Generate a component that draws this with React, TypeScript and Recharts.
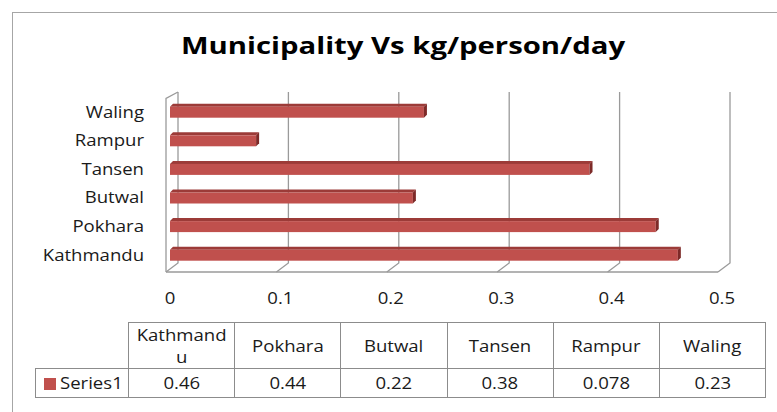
import React from "react";
import { BarChart, Bar, XAxis, YAxis, CartesianGrid } from "recharts";

const categories = ["Kathmandu", "Pokhara", "Butwal", "Tansen", "Rampur", "Waling"];
const values = [0.46, 0.44, 0.22, 0.38, 0.078, 0.23];
const xTicks = [0, 0.1, 0.2, 0.3, 0.4, 0.5];
const seriesName = "Series1";
const title = "Municipality Vs kg/person/day";

const data = categories.map((name, i) => ({ name, value: values[i] }));

const FONT = "'Open Sans', sans-serif";
const TXT = "#1a1a1a";
const GRID = "#9a9a9a";
const RED = "#C0504D";
const SX = 1.16; // the source picture is a bit stretched sideways

// bar with a thin top face and a dark end cap, like the excel 3d bars
const Bar3D = (p: any) => {
  const { x, y, width, height } = p;
  const d = 3;
  const x1 = x + width;
  return (
    <g>
      <polygon points={`${x},${y} ${x + d},${y - d} ${x1 + d},${y - d} ${x1},${y}`} fill="#9c3b38" />
      <rect x={x} y={y} width={width} height={height} fill={RED} />
      <polygon points={`${x1},${y} ${x1 + d},${y - d} ${x1 + d},${y + height - d} ${x1},${y + height}`} fill="#7d2a28" />
    </g>
  );
};

const wallLine = (p: any) => {
  const bx = p.x1 + 8;
  const fx = p.x1 - 4;
  const top = p.y1 - 5.7;
  const bb = p.y2 - 6.3;
  const fy = p.y2 + 2.7;
  return (
    <g key={`v-${p.index}`}>
      <path d={`M${bx},${top}V${bb}L${fx},${fy}`} stroke={GRID} strokeWidth={1.3} fill="none" />
      {p.index === 0 && (
        <path d={`M${bx},${top}L${fx},${top + 6.3}V${fy}`} stroke={GRID} strokeWidth={1.3} fill="none" />
      )}
    </g>
  );
};

const floorLine = (p: any) => (
  <path
    key={`h-${p.index}`}
    d={`M${p.x1 - 4},${p.y1 + 2.7}H${p.x2 - 4}`}
    stroke={GRID}
    strokeWidth={1.3}
    fill="none"
  />
);

const XTick = (p: any) => (
  <g transform={`translate(${p.x},${p.y + 27}) scale(${SX},1)`}>
    <text dy="0.35em" textAnchor="middle" fontFamily={FONT} fontSize={16} fill={TXT}>
      {p.payload.value}
    </text>
  </g>
);

const YTick = (p: any) => (
  <g transform={`translate(${p.x - 24},${p.y}) scale(${SX},1)`}>
    <text dy="0.35em" textAnchor="end" fontFamily={FONT} fontSize={16} fill={TXT}>
      {p.payload.value}
    </text>
  </g>
);

const cell: React.CSSProperties = {
  border: "1px solid #8c8c8c",
  textAlign: "center",
  padding: "0 13px",
  wordBreak: "break-all",
  lineHeight: "22px",
};

const wide: React.CSSProperties = { display: "inline-block", transform: `scaleX(${SX})` };

export default function App() {
  return (
    <div style={{ position: "absolute", left: 0, top: 0, width: 777, height: 412, background: "#fff", overflow: "hidden" }}>
      <div
        style={{
          position: "absolute", left: 12, top: 12, width: 800, height: 420,
          border: "1px solid #a6a6a6", boxSizing: "border-box",
        }}
      />
      <div
        style={{
          position: "absolute", left: 0, top: 28, width: 806, textAlign: "center",
          fontFamily: FONT, fontWeight: 700, fontSize: 24, color: "#000",
        }}
      >
        <span style={{ display: "inline-block", transform: "scaleX(1.22)", whiteSpace: "nowrap" }}>{title}</span>
      </div>

      <div style={{ position: "absolute", left: 0, top: 0 }}>
        <BarChart
          width={777}
          height={412}
          layout="vertical"
          data={data}
          margin={{ top: 97.7, right: 55, bottom: 112.7, left: 10 }}
        >
          <CartesianGrid
            vertical={wallLine}
            horizontal={floorLine}
            horizontalCoordinatesGenerator={({ offset }: any) => [offset.top + offset.height]}
          />
          <XAxis
            type="number"
            domain={[0, 0.5]}
            ticks={xTicks}
            height={30}
            axisLine={false}
            tickLine={false}
            tickSize={0}
            tick={XTick}
          />
          <YAxis
            type="category"
            dataKey="name"
            width={160}
            reversed
            axisLine={false}
            tickLine={false}
            tickSize={0}
            tick={YTick}
          />
          <Bar dataKey="value" fill={RED} barSize={11} isAnimationActive={false} shape={Bar3D} />
        </BarChart>
      </div>

      <table
        style={{
          position: "absolute", left: 35, top: 322, borderCollapse: "collapse", tableLayout: "fixed",
          fontFamily: FONT, fontSize: 16, color: TXT, width: 730,
        }}
      >
        <colgroup>
          <col style={{ width: 93 }} />
          {categories.map((c) => (
            <col key={c} style={{ width: 106.2 }} />
          ))}
        </colgroup>
        <tbody>
          <tr style={{ height: 46 }}>
            <td style={{ border: "none" }} />
            {categories.map((c) => (
              <td key={c} style={cell}>
                <span style={wide}>{c}</span>
              </td>
            ))}
          </tr>
          <tr style={{ height: 29 }}>
            <td style={{ ...cell, textAlign: "left", padding: "0 0 0 8px", whiteSpace: "nowrap" }}>
              <span style={{ display: "inline-block", width: 12, height: 12, background: RED, marginRight: 4, verticalAlign: -1 }} />
              <span style={{ ...wide, transformOrigin: "left center" }}>{seriesName}</span>
            </td>
            {values.map((v, i) => (
              <td key={i} style={cell}>
                <span style={wide}>{String(v)}</span>
              </td>
            ))}
          </tr>
        </tbody>
      </table>
    </div>
  );
}
